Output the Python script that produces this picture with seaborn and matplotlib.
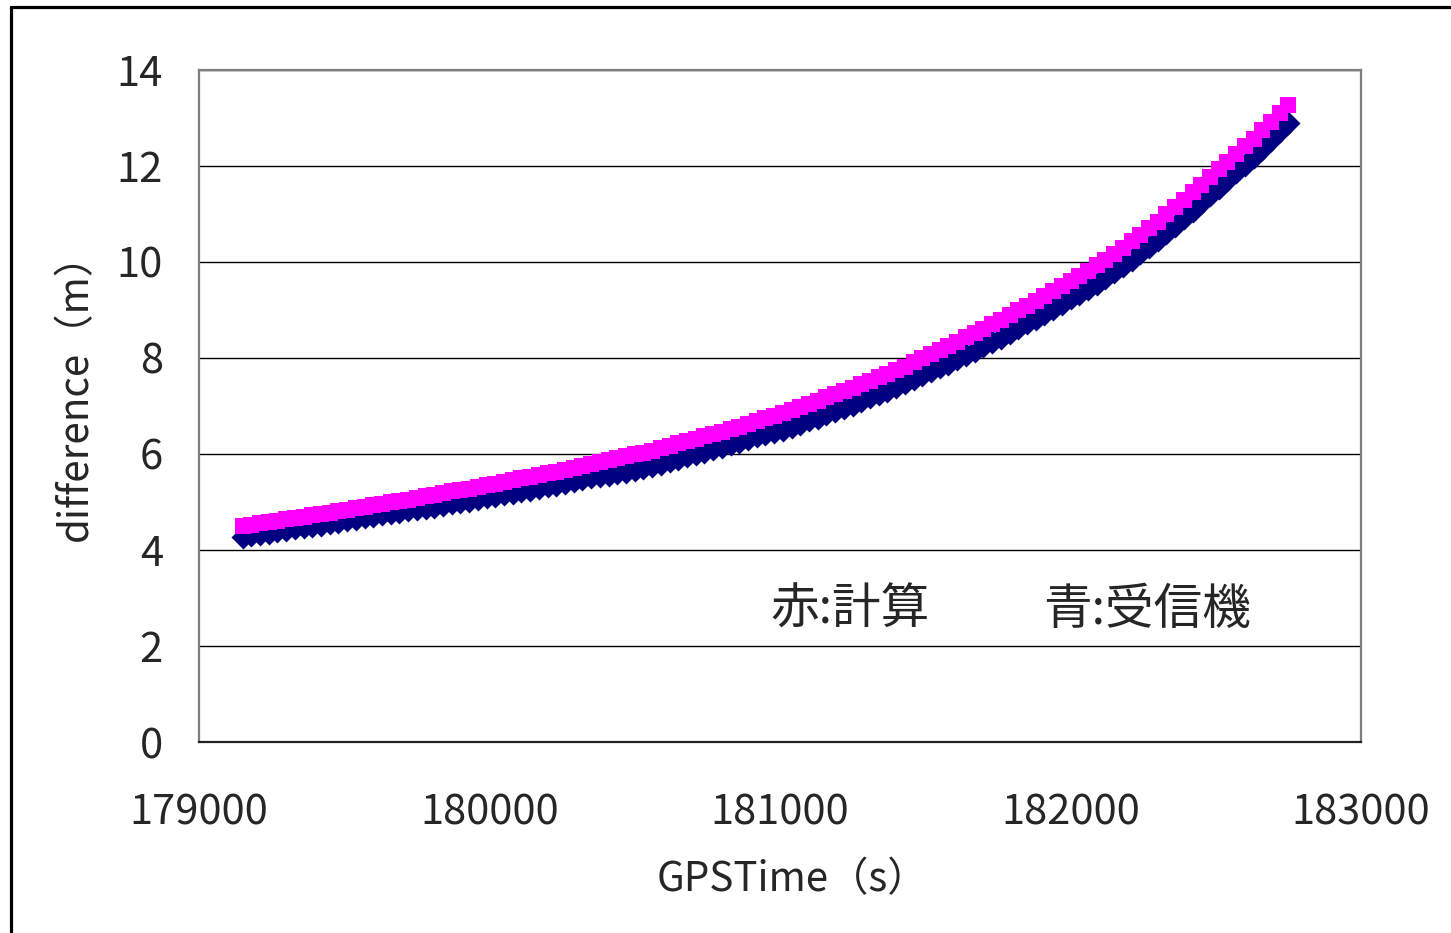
"""
GPS time vs. difference: computed (red/magenta) and receiver (blue) series.
"""

import numpy as np
import pandas as pd
import seaborn as sns
import matplotlib.pyplot as plt
from matplotlib.lines import Line2D

sns.set_theme(style="white")
plt.rcParams["font.family"] = ["Noto Sans CJK JP", "DejaVu Sans"]
SAVE_AS = "out.png"

# GPS time stamps (s), sampled every 30 s
gps_time = np.arange(179150, 182751, 30)

# 赤: 計算 (computed difference, m)
computed = [
    4.50, 4.53, 4.56, 4.58, 4.61, 4.64, 4.67, 4.69, 4.72, 4.75,
    4.78, 4.81, 4.84, 4.87, 4.90, 4.93, 4.96, 4.99, 5.02, 5.05,
    5.08, 5.12, 5.15, 5.18, 5.22, 5.25, 5.28, 5.32, 5.35, 5.38,
    5.42, 5.45, 5.49, 5.52, 5.56, 5.60, 5.63, 5.67, 5.71, 5.75,
    5.79, 5.83, 5.87, 5.91, 5.95, 5.99, 6.03, 6.07, 6.12, 6.17,
    6.22, 6.27, 6.32, 6.37, 6.42, 6.46, 6.52, 6.57, 6.63, 6.69,
    6.74, 6.80, 6.86, 6.92, 6.98, 7.05, 7.11, 7.18, 7.24, 7.31,
    7.38, 7.45, 7.53, 7.60, 7.67, 7.75, 7.82, 7.91, 7.99, 8.08,
    8.16, 8.24, 8.34, 8.43, 8.52, 8.61, 8.70, 8.79, 8.89, 8.99,
    9.09, 9.19, 9.29, 9.39, 9.50, 9.61, 9.71, 9.82, 9.93, 10.05,
    10.17, 10.30, 10.43, 10.56, 10.70, 10.84, 10.99, 11.14, 11.29, 11.45,
    11.61, 11.77, 11.93, 12.09, 12.25, 12.41, 12.57, 12.74, 12.92, 13.10,
    13.28,
]

# 青: 受信機 (receiver difference, m)
receiver = [
    4.28, 4.31, 4.34, 4.36, 4.39, 4.42, 4.45, 4.47, 4.50, 4.53,
    4.56, 4.59, 4.62, 4.65, 4.68, 4.71, 4.74, 4.77, 4.80, 4.83,
    4.86, 4.87, 4.90, 4.93, 4.97, 5.00, 5.03, 5.07, 5.10, 5.13,
    5.17, 5.18, 5.22, 5.25, 5.29, 5.33, 5.36, 5.40, 5.44, 5.48,
    5.52, 5.54, 5.57, 5.60, 5.63, 5.67, 5.71, 5.75, 5.80, 5.85,
    5.90, 5.95, 6.00, 6.05, 6.10, 6.14, 6.20, 6.25, 6.31, 6.37,
    6.42, 6.45, 6.51, 6.57, 6.63, 6.70, 6.76, 6.83, 6.89, 6.96,
    7.03, 7.10, 7.18, 7.25, 7.32, 7.40, 7.47, 7.56, 7.64, 7.73,
    7.81, 7.87, 7.97, 8.06, 8.15, 8.24, 8.33, 8.42, 8.52, 8.62,
    8.72, 8.82, 8.92, 9.02, 9.13, 9.24, 9.33, 9.44, 9.55, 9.67,
    9.79, 9.92, 10.05, 10.18, 10.32, 10.46, 10.61, 10.76, 10.91, 11.07,
    11.23, 11.39, 11.55, 11.71, 11.87, 12.03, 12.19, 12.36, 12.54, 12.72,
    12.90,
]

x_ticks = [179000, 180000, 181000, 182000, 183000]
y_ticks = [0, 2, 4, 6, 8, 10, 12, 14]


def plot(save_as):
    df = pd.DataFrame({"time": gps_time, "computed": computed, "receiver": receiver})

    fig = plt.figure(figsize=(14.51, 9.33), dpi=100)
    ax = fig.add_axes([0.1371, 0.2047, 0.8009, 0.7203])

    # outer chart frame (runs off the right and bottom edges)
    fig.add_artist(Line2D([11 / 1451, 11 / 1451], [0, 1 - 7 / 933],
                          color="black", lw=2.3, transform=fig.transFigure))
    fig.add_artist(Line2D([11 / 1451, 1], [1 - 7 / 933, 1 - 7 / 933],
                          color="black", lw=2.3, transform=fig.transFigure))

    sns.scatterplot(data=df, x="time", y="receiver", marker="D", s=150,
                    color="#000080", linewidth=0, ax=ax, zorder=3)
    sns.scatterplot(data=df, x="time", y="computed", marker="s", s=140,
                    color="#FF00FF", linewidth=0, ax=ax, zorder=4)

    ax.set_xlim(179000, 183000)
    ax.set_ylim(0, 14)
    ax.set_xticks(x_ticks)
    ax.set_yticks(y_ticks)
    ax.set_xticklabels([str(v) for v in x_ticks])
    ax.set_yticklabels([str(v) for v in y_ticks])

    ax.grid(axis="y", color="black", lw=1.0)
    ax.grid(axis="x", visible=False)
    ax.set_axisbelow(True)

    for side in ["top", "right", "left"]:
        ax.spines[side].set_color("#7f7f7f")
        ax.spines[side].set_linewidth(1.6)
    ax.spines["bottom"].set_color("#222222")
    ax.spines["bottom"].set_linewidth(1.6)

    ax.tick_params(axis="both", direction="in", length=10, width=1,
                   color="black", labelsize=30)
    ax.tick_params(axis="y", pad=26)
    ax.tick_params(axis="x", pad=36)

    ax.set_xlabel("GPSTime（s）", fontsize=29, labelpad=19, x=0.511)
    ax.set_ylabel("difference（m）", fontsize=29, labelpad=15, y=0.528)

    ax.text(180966, 2.75, "赤:計算", fontsize=35, va="center", ha="left")
    ax.text(181905, 2.75, "青:受信機", fontsize=35, va="center", ha="left")

    fig.savefig(save_as, dpi=100, facecolor="white")


def main():
    plot(SAVE_AS)


if __name__ == "__main__":
    main()
